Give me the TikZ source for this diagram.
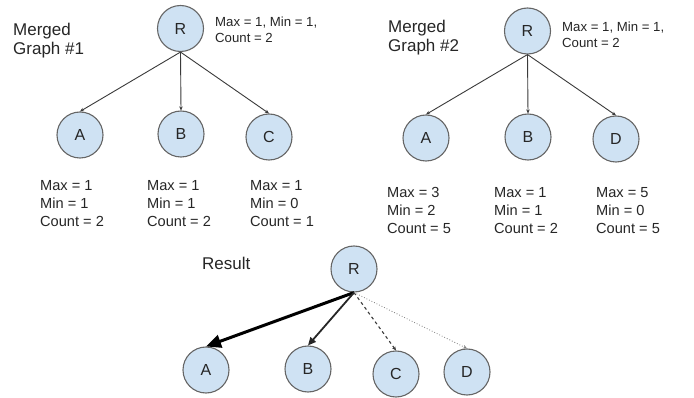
\documentclass[tikz,border=0pt]{standalone}
\usepackage{fontspec}
\setmainfont{Liberation Sans}
\usetikzlibrary{arrows.meta}
\definecolor{nodefill}{HTML}{CFE2F3}
\definecolor{nodeline}{HTML}{666666}
\definecolor{txt}{HTML}{262626}
\definecolor{edge}{HTML}{3A3A3A}
\begin{document}
\begin{tikzpicture}[x=1pt,y=-1pt,
  vert/.style={circle,draw=nodeline,fill=nodefill,line width=1.1pt,minimum size=46pt,inner sep=0pt,font=\fontsize{16}{18}\selectfont,text=txt},
  title/.style={anchor=north west,inner sep=0pt,align=left,text=txt,font=\fontsize{17}{19}\selectfont},
  stats/.style={anchor=north west,inner sep=0pt,align=left,text=txt,font=\fontsize{14.6}{18}\selectfont},
  rstats/.style={anchor=north west,inner sep=0pt,align=left,text=txt,font=\fontsize{13.2}{15.5}\selectfont},
  plain/.style={draw=edge,line width=0.9pt,-{Stealth[length=4pt,width=3.5pt]}},
  heavy/.style={draw=black,line width=3pt,-{Triangle[length=15pt,width=13pt]}},
  medium/.style={draw=black!85,line width=1.8pt,-{Triangle[length=8pt,width=7pt]}},
  dashedge/.style={draw=edge,line width=1.1pt,dashed,-{Stealth[length=4pt,width=3.5pt]}},
  dotedge/.style={draw=gray,line width=0.8pt,dotted,-{Stealth[length=4pt,width=3.5pt]}}
]
\useasboundingbox[fill=white] (0,0) rectangle (694,398);

% Graph 1
\node[title] (t1) at (13,23) {Merged\\Graph \#1};
\node[vert] (r1) at (180.5,28.5) {R};
\node[vert] (a1) at (80,135) {A};
\node[vert] (b1) at (181,134) {B};
\node[vert] (c1) at (269,137) {C};
\node[rstats] (sr1) at (215,17) {Max = 1, Min = 1,\\Count = 2};
\node[stats] (sa1) at (40,180) {Max = 1\\Min = 1\\Count = 2};
\node[stats] (sb1) at (147,180) {Max = 1\\Min = 1\\Count = 2};
\node[stats] (sc1) at (250,180) {Max = 1\\Min = 0\\Count = 1};
\draw[plain] (r1.south) -- (a1.north);
\draw[plain] (r1.south) -- (b1.north);
\draw[plain] (r1.south) -- (c1.north);

% Graph 2
\node[title] (t2) at (388,20) {Merged\\Graph \#2};
\node[vert] (r2) at (527.5,31) {R};
\node[vert] (a2) at (426,138) {A};
\node[vert] (b2) at (528,137) {B};
\node[vert] (d2) at (616,139) {D};
\node[rstats] (sr2) at (562,22) {Max = 1, Min = 1,\\Count = 2};
\node[stats] (sa2) at (387,187) {Max = 3\\Min = 2\\Count = 5};
\node[stats] (sb2) at (494,187) {Max = 1\\Min = 1\\Count = 2};
\node[stats] (sd2) at (596,187) {Max = 5\\Min = 0\\Count = 5};
\draw[plain] (r2.south) -- (a2.north);
\draw[plain] (r2.south) -- (b2.north);
\draw[plain] (r2.south) -- (d2.north);

% Result
\node[title] (t3) at (202,257) {Result};
\node[vert] (r3) at (354,269) {R};
\node[vert] (a3) at (206,370) {A};
\node[vert] (b3) at (308,369) {B};
\node[vert] (c3) at (396,374) {C};
\node[vert] (d3) at (467,372) {D};
\draw[heavy] (r3.south) -- (a3.north);
\draw[medium] (r3.south) -- (b3.north);
\draw[dashedge] (r3.south) -- (c3.north);
\draw[dotedge] (r3.south) -- (d3.north);
\end{tikzpicture}
\end{document}
